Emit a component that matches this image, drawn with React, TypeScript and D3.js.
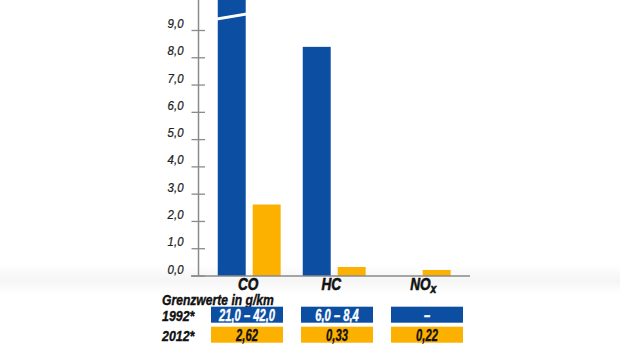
import React from "react";
import * as d3 from "d3";

const categories = ["CO", "HC", "NOx"];
const series = ["1992", "2012"];
// 1992 bars (upper limit of range; CO exceeds axis), null = no value
const values1992: (number | null)[] = [42.0, 8.4, null];
const values2012: number[] = [2.62, 0.33, 0.22];
const yTicks = [0, 1, 2, 3, 4, 5, 6, 7, 8, 9];
const row1992Labels = ["21,0 – 42,0", "6,0 – 8,4", "–"];
const row2012Labels = ["2,62", "0,33", "0,22"];
const rowNames = ["1992*", "2012*"];

const BLUE = "#0b4ea2";
const ORANGE = "#fcb000";
const AXIS = "#8a8a8a";
const FONT = "'Liberation Sans', Arial, sans-serif";

function NText(props: {
  x: number; y: number; sx: number; size: number; anchor?: string; bold?: boolean;
  fill?: string; heavy?: number; children: React.ReactNode;
}) {
  const { x, y, sx, size, anchor = "start", bold = true, fill = "#111", heavy = 0, children } = props;
  return (
    <text
      transform={`translate(${x},${y}) scale(${sx},1)`}
      textAnchor={anchor}
      fontFamily={FONT}
      fontStyle="italic"
      fontWeight={bold ? "bold" : "normal"}
      fontSize={size}
      fill={fill}
      stroke={heavy > 0 ? fill : "none"}
      strokeWidth={heavy}
    >
      {children}
    </text>
  );
}

export default function App() {
  const W = 620, H = 349;
  const y = d3.scaleLinear().domain([0, 9]).range([276, 30.5]);
  const x = d3.scaleBand<string>().domain(categories).range([206.7, 461.7]).paddingInner(0.26).paddingOuter(0.13);
  const xs = d3.scaleBand<string>().domain(series).range([0, x.bandwidth()]).paddingInner(0.2);
  const tx = d3.scaleBand<string>().domain(categories).range([206.5, 467.5]).paddingInner(0.2).paddingOuter(0.05);

  const bar = (v: number, cat: string, s: string, color: string, key: string) => {
    const x0 = (x(cat) ?? 0) + (xs(s) ?? 0);
    const top = Math.max(0, y(v));
    return <rect key={key} x={x0} y={top} width={xs.bandwidth()} height={y(0) - top} fill={color} />;
  };

  const coX = (x("CO") ?? 0) + (xs("1992") ?? 0);
  const bw = xs.bandwidth();

  return (
    <svg width={W} height={H} style={{ position: "absolute", left: 0, top: 0, background: "#fff" }}>
      <defs>
        <linearGradient id="bg" x1="0" y1="0" x2="0" y2="1">
          <stop offset="0" stopColor="#ffffff" />
          <stop offset="0.55" stopColor="#f5f5f5" />
          <stop offset="1" stopColor="#ffffff" />
        </linearGradient>
      </defs>
      <rect x={0} y={264} width={W} height={30} fill="url(#bg)" />
      {/* bars */}
      {categories.map((c, i) => {
        const v = values1992[i];
        return v == null ? null : bar(v, c, "1992", BLUE, "b" + c);
      })}
      {categories.map((c, i) => bar(values2012[i], c, "2012", ORANGE, "o" + c))}
      {/* break mark on CO bar */}
      <polygon
        points={`${coX - 1},${17.5} ${coX + bw + 1},${12.5} ${coX + bw + 1},${15.5} ${coX - 1},${20.5}`}
        fill="#fff"
      />
      {/* axis */}
      <line x1={198.5} x2={198.5} y1={0} y2={y(0)} stroke={AXIS} strokeWidth={1.5} />
      <line x1={191} x2={470} y1={y(0)} y2={y(0)} stroke={AXIS} strokeWidth={1.5} />
      {yTicks.map((t) => (
        <g key={t}>
          <line x1={191.5} x2={205} y1={y(t)} y2={y(t)} stroke={AXIS} strokeWidth={1.3} />
          <NText x={183.5} y={y(t) - 2.5} sx={0.88} size={13} anchor="end" bold={false} fill="#222" heavy={0.25}>
            {d3.format(".1f")(t).replace(".", ",")}
          </NText>
        </g>
      ))}
      {/* category labels */}
      {categories.map((c) => {
        const cx = (x(c) ?? 0) + x.bandwidth() / 2 + (c === "NOx" ? 4 : c === "HC" ? -3 : -1);
        return (
          <NText key={c} x={cx} y={289.8} sx={0.8} size={17} anchor="middle" heavy={0.6}>
            {c === "NOx" ? (
              <>
                NO<tspan fontSize={13} dy={3}>x</tspan>
              </>
            ) : (
              c
            )}
          </NText>
        );
      })}
      <NText x={162} y={304.8} sx={0.82} size={14.8} heavy={0.4}>
        Grenzwerte in g/km
      </NText>
      {/* table */}
      {[row1992Labels, row2012Labels].map((row, r) => {
        const y0 = 306.7 + r * 20;
        const fill = r === 0 ? BLUE : ORANGE;
        const tc = r === 0 ? "#fff" : "#111";
        return (
          <g key={r}>
            <NText x={162} y={y0 + 14} sx={0.8} size={15.5} heavy={0.4}>
              {rowNames[r]}
            </NText>
            {categories.map((c, i) => (
              <g key={c}>
                <rect x={tx(c)} y={y0} width={tx.bandwidth()} height={16} fill={fill} />
                <NText x={(tx(c) ?? 0) + tx.bandwidth() / 2} y={y0 + 14} sx={0.7} size={16} anchor="middle" fill={tc} heavy={0.35}>
                  {row[i]}
                </NText>
              </g>
            ))}
          </g>
        );
      })}
    </svg>
  );
}
